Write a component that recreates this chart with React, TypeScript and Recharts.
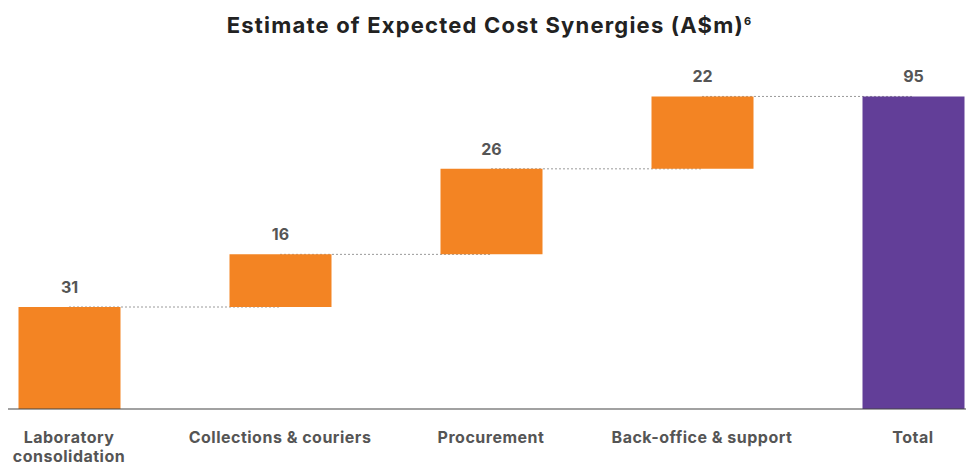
import { BarChart, Bar, XAxis, YAxis, Cell, LabelList, ReferenceLine } from "recharts";

const categories = [
  "Laboratory\nconsolidation",
  "Collections & couriers",
  "Procurement",
  "Back-office & support",
  "Total",
];
const increments = [31, 16, 26, 22, 95];
const isTotal = [false, false, false, false, true];

const ORANGE = "#F38423";
const PURPLE = "#623E98";
const LABEL = "#555555";
const FONT = "Inter, 'Noto Sans', sans-serif";

// waterfall: invisible base + visible step
let running = 0;
const data = increments.map((v, i) => {
  const base = isTotal[i] ? 0 : running;
  if (!isTotal[i]) running += v;
  return { idx: i, base, value: v, top: base + v };
});

const connectors = data.slice(0, -1).map((d, i) => ({ from: i, to: i + 1, level: d.top }));

function CategoryTick(props: any) {
  const { x, y, payload } = props;
  const lines = categories[payload.value].split("\n");
  return (
    <text
      x={x}
      y={y}
      textAnchor="middle"
      fill={LABEL}
      fontSize={16}
      fontWeight={700}
      letterSpacing={0.5}
      fontFamily={FONT}
    >
      {lines.map((l, i) => (
        <tspan key={i} x={x} dy={i === 0 ? 26 : 19}>
          {l}
        </tspan>
      ))}
    </text>
  );
}

export default function App() {
  return (
    <div style={{ position: "relative", width: 966, height: 465, fontFamily: FONT }}>
      <style>{`body{margin:0}`}</style>
      <div
        style={{
          position: "absolute",
          top: 12,
          left: 0,
          width: 966,
          paddingLeft: 13,
          boxSizing: "border-box",
          textAlign: "center",
          fontSize: 22,
          fontWeight: 700,
          letterSpacing: 1.2,
          color: "#222",
        }}
      >
        Estimate of Expected Cost Synergies (A$m)
        <sup style={{ fontSize: 11 }}>6</sup>
      </div>
      <BarChart
        width={966}
        height={465}
        data={data}
        margin={{ top: 80, right: 0, left: 8, bottom: 0 }}
      >
        <XAxis
          type="number"
          dataKey="idx"
          domain={[0, 4]}
          ticks={[0, 1, 2, 3, 4]}
          interval={0}
          padding={{ left: 61, right: 53 }}
          tickLine={false}
          axisLine={{ stroke: "#444", strokeWidth: 1.2 }}
          tick={<CategoryTick />}
          height={56}
        />
        <YAxis hide domain={[0, 100]} />
        {connectors.map((c) => (
          <ReferenceLine
            key={c.from}
            segment={[
              { x: c.from, y: c.level },
              { x: c.to, y: c.level },
            ]}
            stroke="#9a9a9a"
            strokeDasharray="2 2"
            strokeWidth={1}
            zIndex={-10}
          />
        ))}
        <Bar dataKey="base" stackId="a" fill="transparent" barSize={102} isAnimationActive={false} />
        <Bar dataKey="value" stackId="a" barSize={102} isAnimationActive={false}>
          {data.map((d, i) => (
            <Cell key={i} fill={isTotal[i] ? PURPLE : ORANGE} />
          ))}
          <LabelList
            dataKey="value"
            position="top"
            offset={14}
            fill={LABEL}
            fontSize={16}
            fontWeight={700}
            fontFamily={FONT}
          />
        </Bar>
      </BarChart>
    </div>
  );
}
